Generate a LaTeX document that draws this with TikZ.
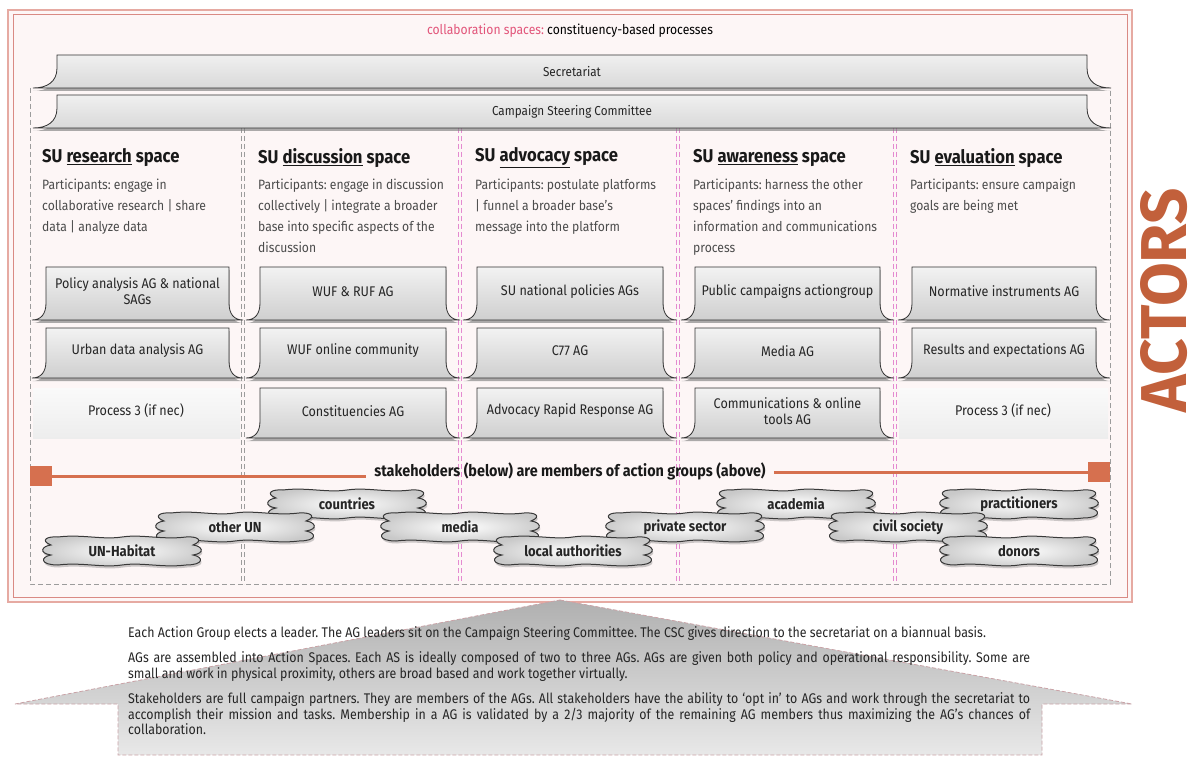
\documentclass[tikz,border=0pt]{standalone}
\usepackage{fontspec}
\setmainfont{Fira Sans}[FakeStretch=0.9]
\newfontfamily\rkbtfam{Fira Sans}[FakeStretch=0.885]
\usepackage{graphicx}
\usetikzlibrary{shadows}
\setlength\parindent{0pt}
\frenchspacing
\definecolor{frameout}{HTML}{E6AAA2}
\definecolor{framein}{HTML}{D98A84}
\definecolor{framefill}{HTML}{FDF6F6}
\definecolor{titlepink}{HTML}{E2557A}
\definecolor{divpink}{HTML}{E48AD0}
\definecolor{divgrey}{HTML}{9C9C9C}
\definecolor{stkorange}{HTML}{D6704F}
\definecolor{actorsC}{HTML}{C2603B}
\definecolor{arrowline}{HTML}{C9A2A6}
\newcommand\rkag{\fontsize{14}{16}\selectfont}
\newcommand\rkbn{\fontsize{13}{15}\selectfont}
\newcommand\rkhd{\fontsize{18.5}{20}\selectfont\bfseries}
\newcommand\rkpt{\fontsize{13.5}{21}\selectfont}
\newcommand\rkcl{\fontsize{14.5}{16}\selectfont\bfseries}
\newcommand\rkbt{\rkbtfam\fontsize{14}{15.5}\selectfont}
\newcommand\rkst{\fontsize{16}{18}\selectfont\bfseries}
\newcommand\rkti{\fontsize{13.5}{16}\selectfont}
\tikzset{
  agshape/.style={draw=gray!40!black, line width=0.8pt, top color=gray!10, bottom color=gray!38,
    drop shadow={shadow xshift=0.5pt, shadow yshift=-3pt, opacity=0.65}},
  bannershape/.style={draw=gray!40!black, line width=0.8pt, top color=gray!12, bottom color=gray!30,
    drop shadow={shadow xshift=0pt, shadow yshift=-3pt, opacity=0.65}},
  agtext/.style={font=\rkag, text=black!85, align=center, inner sep=0pt},
  bannertext/.style={font=\rkbn, text=black!85, inner sep=0pt},
  plainbox/.style={top color=gray!4, bottom color=gray!14, draw=none},
  hd/.style={font=\rkhd, text=black!90, anchor=west, inner sep=0pt},
  ptext/.style={font=\rkpt, text=black!70, anchor=north west, align=left, inner sep=0pt},
  cloudshape/.style={draw=gray!45!black, line width=1pt, inner color=white, outer color=gray!42,
    drop shadow={shadow xshift=1pt, shadow yshift=-2.5pt, opacity=0.4}},
  cloudtext/.style={font=\rkcl, text=black!85, inner sep=0pt},
  divg/.style={draw=divgrey, line width=0.7pt, dash pattern=on 5pt off 3pt},
  divp/.style={draw=divpink, line width=0.8pt, dash pattern=on 5pt off 3pt},
  sq/.style={fill=stkorange, minimum width=22pt, minimum height=20pt, inner sep=0pt},
  stkline/.style={draw=stkorange, line width=3pt},
}
\newcommand\agbox[6]{%
  \draw[agshape] (#2,#4) -- (#3,#4) -- (#3,#5-17) .. controls (#3,#5-6) and (#3+5,#5) .. (#3+14,#5)
    -- (#2-14,#5) .. controls (#2-5,#5) and (#2,#5-6) .. (#2,#5-17) -- cycle;
  \node[agtext] (#1) at ({(#2+#3)/2},{(#4+#5)/2-2}) {#6};}
\newcommand\bannerbox[6]{%
  \draw[bannershape] (#2,#4) -- (#3,#4) -- (#3,#5-20) .. controls (#3,#5-6) and (#3+10,#5) .. (#3+24,#5)
    -- (#2-24,#5) .. controls (#2-10,#5) and (#2,#5-6) .. (#2,#5-20) -- cycle;
  \node[bannertext] (#1) at ({(#2+#3)/2},{(#4+#5)/2}) {#6};}
\newcommand\stakecloud[4]{%
  \begin{scope}[shift={(#2,#3)}]
  \draw[cloudshape] (-64,-14) .. controls (-40,-17) and (-20,-11) .. (0,-14)
    .. controls (20,-17) and (40,-11) .. (64,-14)
    .. controls (74,-15) and (83,-11) .. (71,-6)
    .. controls (80,-5) and (84,2) .. (71,4)
    .. controls (82,6) and (82,14) .. (64,14)
    .. controls (40,17) and (20,11) .. (0,14)
    .. controls (-20,17) and (-40,11) .. (-64,14)
    .. controls (-82,14) and (-82,6) .. (-71,4)
    .. controls (-84,2) and (-80,-5) .. (-71,-6)
    .. controls (-83,-11) and (-74,-15) .. (-64,-14) -- cycle;
  \node[cloudtext] (#1) at (0,0) {#4};
  \end{scope}}
\begin{document}
\begin{tikzpicture}[x=1pt,y=-1pt]
\useasboundingbox (0,0) rectangle (1202,759);
% frame
\draw[frameout, line width=1.5pt, fill=framefill] (8,10) rectangle (1132,602);
\draw[framein, line width=1pt] (13,15) rectangle (1127,597);
% title
\node[font=\rkti, inner sep=0pt] (title) at (570,31) {\textcolor{titlepink}{collaboration spaces:} constituency-based processes};
% dashed structure
\draw[divg] (30,88) -- (30,584) -- (1110,584) -- (1110,88);
\draw[divg] (241.5,128) -- (241.5,584);
\draw[divg] (244.5,128) -- (244.5,584);
\foreach \d in {460,678,895}{
  \draw[divp] (\d-1.5,128) -- (\d-1.5,584);
  \draw[divp] (\d+1.5,128) -- (\d+1.5,584);
}
% banners
\bannerbox{sec}{57}{1087}{55}{88}{Secretariat}
\bannerbox{csc}{57}{1087}{95}{128}{Campaign Steering Committee}
% headers
\node[hd] (h1) at (42,158) {SU \underline{research} space};
\node[hd] (h2) at (258,158) {SU \underline{discussion} space};
\node[hd] (h3) at (475,158) {SU \underline{advocacy} space};
\node[hd] (h4) at (693,158) {SU \underline{awareness} space};
\node[hd] (h5) at (910,158) {SU \underline{evaluation} space};
\node[ptext] (p1) at (42,179) {Participants: engage in\\collaborative research | share\\data | analyze data};
\node[ptext] (p2) at (258,179) {Participants: engage in discussion\\collectively | integrate a broader\\base into specific aspects of the\\discussion};
\node[ptext] (p3) at (475,179) {Participants: postulate platforms\\| funnel a broader base’s\\message into the platform};
\node[ptext] (p4) at (693,179) {Participants: harness the other\\spaces’ findings into an\\information and communications\\process};
\node[ptext] (p5) at (910,179) {Participants: ensure campaign\\goals are being met};
% action group boxes
\agbox{a11}{46}{229}{267}{320}{Policy analysis AG \& national\\SAGs}
\agbox{a12}{260}{446}{267}{320}{WUF \& RUF AG}
\agbox{a13}{477}{663}{267}{320}{SU national policies AGs}
\agbox{a14}{695}{880}{267}{320}{Public campaigns actiongroup}
\agbox{a15}{912}{1096}{267}{320}{Normative instruments AG}
\agbox{a21}{46}{229}{328}{378}{Urban data analysis AG}
\agbox{a22}{260}{446}{328}{378}{WUF online community}
\agbox{a23}{477}{663}{328}{378}{C77 AG}
\agbox{a24}{695}{880}{328}{378}{Media AG}
\agbox{a25}{912}{1096}{328}{378}{Results and expectations AG}
\fill[plainbox] (33,388) rectangle (240,438);
\node[agtext] (a31) at (136,411) {Process 3 (if nec)};
\agbox{a32}{260}{446}{388}{438}{Constituencies AG}
\agbox{a33}{477}{663}{388}{438}{Advocacy Rapid Response AG}
\agbox{a34}{695}{880}{388}{438}{Communications \& online\\tools AG}
\fill[plainbox] (899,388) rectangle (1108,438);
\node[agtext] (a35) at (1003,411) {Process 3 (if nec)};
% stakeholders line
\node[font=\rkst, text=black!90, inner sep=0pt] (stk) at (570,471) {stakeholders (below) are members of action groups (above)};
\node[sq] (sqL) at (41,476) {};
\node[sq] (sqR) at (1099,472) {};
\draw[stkline] (sqL.east) -- ([xshift=-8pt]stk.west |- sqL.east);
\draw[stkline] ([xshift=8pt]stk.east |- sqR.west) -- (sqR.west);
% stakeholder clouds
\stakecloud{cCountries}{347}{504}{countries}
\stakecloud{cAcademia}{796}{504}{academia}
\stakecloud{cPract}{1019}{504}{practitioners}
\stakecloud{cOtherUN}{235}{527}{other UN}
\stakecloud{cMedia}{460}{527}{media}
\stakecloud{cPrivate}{685}{527}{private sector}
\stakecloud{cCivil}{908}{527}{civil society}
\stakecloud{cHabitat}{122}{551}{UN-Habitat}
\stakecloud{cLocal}{573}{551}{local authorities}
\stakecloud{cDonors}{1019}{551}{donors}
% bottom arrow
\path[draw=arrowline, line width=0.8pt, dash pattern=on 4pt off 2pt, top color=gray!62, bottom color=gray!18]
  (560,600) -- (1132,704) -- (1042,704) -- (1042,755) -- (118,755) -- (118,704) -- (15,704) -- cycle;
\node[anchor=north west, text width=902pt, inner sep=0pt, font=\rkbt, text=black!85, align=justify] (bt) at (128,626)
 {Each Action Group elects a leader. The AG leaders sit on the Campaign Steering Committee. The CSC gives direction to the secretariat on a biannual basis.\par\vspace{10pt}
 AGs are assembled into Action Spaces. Each AS is ideally composed of two to three AGs. AGs are given both policy and operational responsibility. Some are\linebreak small and work in physical proximity, others are broad based and work together virtually.\par\vspace{10pt}
 Stakeholders are full campaign partners. They are members of the AGs. All stakeholders have the ability to ‘opt in’ to AGs and work through the secretariat to\linebreak accomplish their mission and tasks. Membership in a AG is validated by a 2/3 majority of the remaining AG members thus maximizing the AG’s chances of\linebreak collaboration.};
% ACTORS
\node[rotate=90, text=actorsC, inner sep=0pt] (actors) at (1164,300) {\resizebox{224pt}{46pt}{\bfseries ACTORS}};
\end{tikzpicture}
\end{document}
